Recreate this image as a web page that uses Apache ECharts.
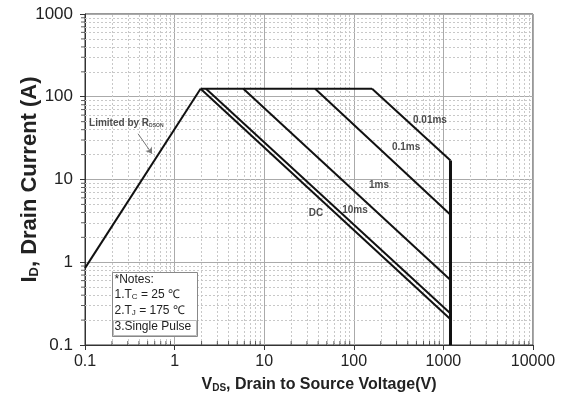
<!DOCTYPE html>
<html>
<head>
<meta charset="utf-8">
<script src="https://cdn.jsdelivr.net/npm/echarts@6/dist/echarts.min.js"></script>
<style>
html,body{margin:0;padding:0;background:#fff;}
#chart{width:572px;height:398px;}
</style>
</head>
<body>
<div id="chart"></div>
<script>
// Safe operating area curves (VDS in V, ID in A)
var rdsonLimit = [[0.1, 0.85], [1.95, 125]];
var currentLimit = [[1.95, 125], [160, 125]];
var pulse001ms = [[160, 125], [1200, 17]];
var pulse01ms = [[37, 125], [1200, 3.75]];
var pulse1ms = [[5.85, 125], [1200, 0.61]];
var pulse10ms = [[2.24, 125], [1200, 0.24]];
var dcLine = [[1.95, 125], [1200, 0.205]];
var voltageLimit = [[1200, 17], [1200, 0.1]];

// Curve labels: [VDS, ID, text]
var curveLabels = [
  [708, 52.7, '0.01ms'],
  [383, 24.2, '0.1ms'],
  [191, 8.6, '1ms'],
  [103, 4.3, '10ms'],
  [37.8, 3.96, 'DC']
];
var rdsonLabel = [0.111, 48.5];
var rdsonArrow = [[0.391, 35.7], [0.56, 20.5]];

var xTicks = [0.1, 1, 10, 100, 1000, 10000];
var yTicks = [0.1, 1, 10, 100, 1000];
var minorSteps = [2, 3, 4, 5, 6, 7, 8, 9];

function minorValues(decades) {
  var out = [];
  decades.slice(0, -1).forEach(function (d) {
    minorSteps.forEach(function (m) { out.push(+(d * m).toPrecision(3)); });
  });
  return out;
}
var xMinor = minorValues(xTicks);
var yMinor = minorValues(yTicks);

var FONT = '"Liberation Sans", Arial, sans-serif';
var chart = echarts.init(document.getElementById('chart'), null, {renderer: 'canvas'});

function curve(data, width) {
  return {
    type: 'line', data: data, symbol: 'none', silent: true, z: 5,
    lineStyle: {color: '#111', width: width || 2}
  };
}

var option = {
  animation: false,
  backgroundColor: '#fff',
  grid: {left: 85, right: 39, top: 14, bottom: 53, containLabel: false, outerBoundsMode: 'none',
    show: true, borderColor: '#333', borderWidth: 1, backgroundColor: 'transparent'},
  xAxis: {
    type: 'log', logBase: 10, min: 0.1, max: 10000,
    name: '{s|V}{sub|DS}{s|, Drain to Source Voltage(V)}',
    nameLocation: 'middle', nameGap: 31, nameMoveOverlap: false,
    nameTextStyle: {padding: [0, 0, 0, 20], rich: {
      s: {fontFamily: FONT, fontWeight: 'bold', fontSize: 16, color: '#222'},
      sub: {fontFamily: FONT, fontWeight: 'bold', fontSize: 10, color: '#222', verticalAlign: 'bottom', padding: [7, 0, 0, 0]}
    }},
    axisLine: {show: true, lineStyle: {color: '#333', width: 1}},
    axisTick: {show: true, length: 5, lineStyle: {color: '#333'}},
    axisLabel: {fontFamily: FONT, fontSize: 16, color: '#222', margin: 9,
      formatter: function (v) { return String(+v.toPrecision(6)); }},
    splitLine: {show: true, lineStyle: {color: '#aaa', width: 1}}
  },
  yAxis: {
    type: 'log', logBase: 10, min: 0.1, max: 1000,
    name: '{s|I}{sub|D}{s|, Drain Current (A)}',
    nameLocation: 'middle', nameGap: 44, nameRotate: 90, nameMoveOverlap: false,
    nameTextStyle: {rich: {
      s: {fontFamily: FONT, fontWeight: 'bold', fontSize: 22, color: '#222'},
      sub: {fontFamily: FONT, fontWeight: 'bold', fontSize: 13, color: '#222', verticalAlign: 'bottom', padding: [10, 0, 0, 0]}
    }},
    axisLine: {show: true, lineStyle: {color: '#333', width: 1}},
    axisTick: {show: true, length: 5, lineStyle: {color: '#333'}},
    axisLabel: {fontFamily: FONT, fontSize: 17, color: '#222', margin: 12,
      formatter: function (v) { return String(+v.toPrecision(6)); }},
    splitLine: {show: true, lineStyle: {color: '#aaa', width: 1}}
  },
  series: [
    // minor grid
    {
      type: 'line', data: [], silent: true, z: 1,
      markLine: {
        silent: true, symbol: 'none', label: {show: false}, animation: false,
        lineStyle: {color: '#c8c8c8', type: [2, 2], width: 1},
        data: xMinor.map(function (v) { return {xAxis: v}; })
          .concat(yMinor.map(function (v) { return {yAxis: v}; }))
      }
    },
    // minor ticks
    {
      type: 'scatter', silent: true, clip: false, z: 6,
      symbol: 'rect', symbolSize: [1, 4], symbolOffset: [0, -2],
      itemStyle: {color: '#333'},
      data: xMinor.map(function (v) { return [v, 0.1]; })
    },
    {
      type: 'scatter', silent: true, clip: false, z: 6,
      symbol: 'rect', symbolSize: [4, 1], symbolOffset: [-2, 0],
      itemStyle: {color: '#333'},
      data: yMinor.map(function (v) { return [0.1, v]; })
    },
    curve(rdsonLimit),
    curve(currentLimit),
    curve(pulse001ms),
    curve(pulse01ms),
    curve(pulse1ms),
    curve(pulse10ms),
    curve(dcLine),
    curve(voltageLimit, 3),
    // curve labels
    {
      type: 'scatter', silent: true, z: 7, symbolSize: 0,
      data: curveLabels.map(function (d) { return {value: [d[0], d[1]], name: d[2]}; }),
      label: {show: true, position: 'inside', formatter: '{b}',
        fontFamily: FONT, fontWeight: 'bold', fontSize: 10, color: '#222'}
    },
    {
      type: 'scatter', silent: true, z: 7, symbolSize: 0,
      data: [{value: rdsonLabel}],
      label: {show: true, position: 'right', distance: 0,
        formatter: '{a|Limited by R}{b|DSON}',
        rich: {
          a: {fontFamily: FONT, fontWeight: 'bold', fontSize: 10, color: '#222'},
          b: {fontFamily: FONT, fontWeight: 'bold', fontSize: 5, color: '#222', verticalAlign: 'bottom', padding: [4, 0, 0, 0]}
        }},
      markLine: {
        silent: true, symbol: ['none', 'arrow'], symbolSize: 6, label: {show: false},
        lineStyle: {color: '#777', width: 1, type: 'solid'},
        data: [[{coord: rdsonArrow[0]}, {coord: rdsonArrow[1]}]]
      }
    }
  ],
  graphic: [{
    type: 'group', left: 111, top: 272, z: 100,
    children: [
      {type: 'rect', z: 100, shape: {x: 0, y: 0, width: 85, height: 64}, style: {fill: '#fff', stroke: '#888', lineWidth: 1}},
      {type: 'text', z: 101, left: 2, top: 1, style: {text: '*Notes:', font: '12px ' + FONT, fill: '#222'}},
      {type: 'text', z: 101, left: 2, top: 16, style: {
        text: '{n|1.T}{s|C}{n| = 25 ℃}',
        rich: {n: {font: '12px ' + FONT, fill: '#222'}, s: {font: '8px ' + FONT, fill: '#222', padding: [4, 0, 0, 0]}}}},
      {type: 'text', z: 101, left: 2, top: 32, style: {
        text: '{n|2.T}{s|J}{n| = 175 ℃}',
        rich: {n: {font: '12px ' + FONT, fill: '#222'}, s: {font: '8px ' + FONT, fill: '#222', padding: [4, 0, 0, 0]}}}},
      {type: 'rect', z: 101, shape: {x: 1, y: 48, width: 83, height: 15}, style: {fill: 'none', stroke: '#bbb', lineWidth: 1}},
      {type: 'text', z: 101, left: 2, top: 48, style: {text: '3.Single Pulse', font: '12px ' + FONT, fill: '#222'}}
    ]
  }]
};
chart.setOption(option);
</script>
</body>
</html>
